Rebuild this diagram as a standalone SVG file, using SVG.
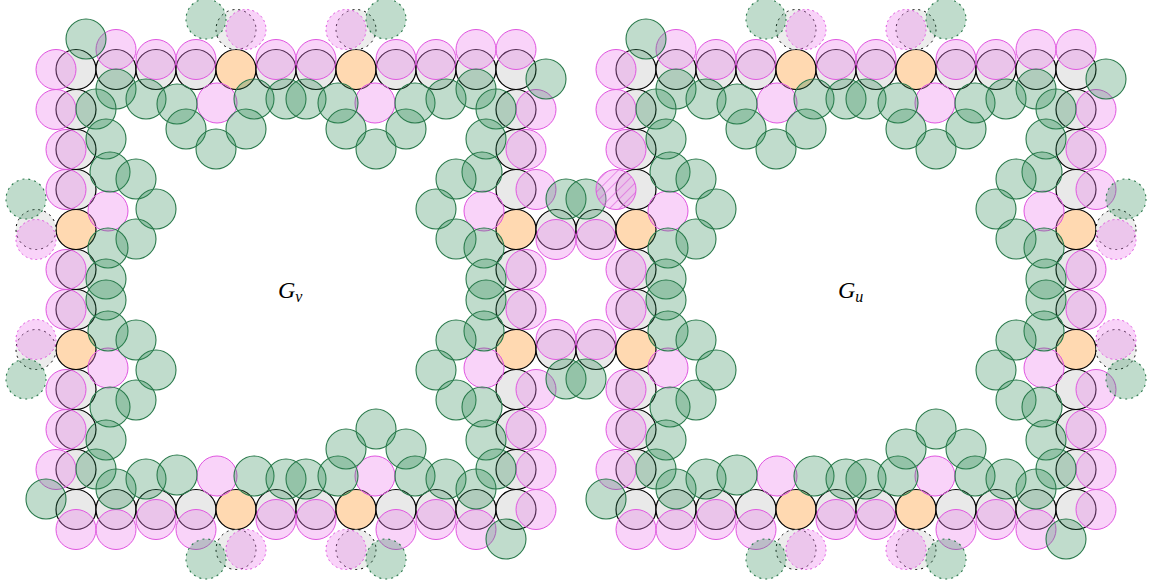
<svg xmlns="http://www.w3.org/2000/svg" width="1151" height="586" viewBox="0 0 1151 586">
<style>
circle{r:20px}
.b{fill:#e9e9e9;stroke:#000;stroke-width:1.2}
.o{fill:#ffd9b1;stroke:#000;stroke-width:1.2}
.p{fill:#ee82ee;fill-opacity:.35;stroke:#e055e0;stroke-width:1}
.g{fill:#2e8b57;fill-opacity:.3;stroke:#2a7a4c;stroke-width:1.1}
.bd{fill:#e9e9e9;fill-opacity:.85;stroke:#000;stroke-width:1;stroke-dasharray:2 4}
.pd{fill:#ee82ee;fill-opacity:.35;stroke:#e055e0;stroke-width:1;stroke-dasharray:2 3}
.gd{fill:#2e8b57;fill-opacity:.3;stroke:#2a7a4c;stroke-width:1.1;stroke-dasharray:2 4}
.h{fill:url(#hatch);stroke:none}
.lbl{font-family:"Liberation Serif","DejaVu Serif",serif;font-style:italic;font-size:24px;fill:#000}
</style>
<defs>
<pattern id="hatch" patternUnits="userSpaceOnUse" width="7" height="7" patternTransform="rotate(45)">
<line x1="0" y1="0" x2="0" y2="7" stroke="#d94fd9" stroke-width="1.1"/>
</pattern>
</defs>
<rect width="1151" height="586" fill="#fff"/>

<!-- ===== Gadget G_v ===== -->
<g id="Gv">
 <g id="Gv-black">
  <circle class="b" cx="76" cy="69.5"/><circle class="b" cx="116" cy="69.5"/><circle class="b" cx="156" cy="69.5"/><circle class="b" cx="196" cy="69.5"/><circle class="o" cx="236" cy="69.5"/><circle class="b" cx="276" cy="69.5"/><circle class="b" cx="316" cy="69.5"/><circle class="o" cx="356" cy="69.5"/><circle class="b" cx="396" cy="69.5"/><circle class="b" cx="436" cy="69.5"/><circle class="b" cx="476" cy="69.5"/><circle class="b" cx="516" cy="69.5"/>
  <circle class="b" cx="76" cy="509.5"/><circle class="b" cx="116" cy="509.5"/><circle class="b" cx="156" cy="509.5"/><circle class="b" cx="196" cy="509.5"/><circle class="o" cx="236" cy="509.5"/><circle class="b" cx="276" cy="509.5"/><circle class="b" cx="316" cy="509.5"/><circle class="o" cx="356" cy="509.5"/><circle class="b" cx="396" cy="509.5"/><circle class="b" cx="436" cy="509.5"/><circle class="b" cx="476" cy="509.5"/><circle class="b" cx="516" cy="509.5"/>
  <circle class="b" cx="76" cy="109.5"/><circle class="b" cx="76" cy="149.5"/><circle class="b" cx="76" cy="189.5"/><circle class="o" cx="76" cy="229.5"/><circle class="b" cx="76" cy="269.5"/><circle class="b" cx="76" cy="309.5"/><circle class="o" cx="76" cy="349.5"/><circle class="b" cx="76" cy="389.5"/><circle class="b" cx="76" cy="429.5"/><circle class="b" cx="76" cy="469.5"/>
  <circle class="b" cx="516" cy="109.5"/><circle class="b" cx="516" cy="149.5"/><circle class="b" cx="516" cy="189.5"/><circle class="o" cx="516" cy="229.5"/><circle class="b" cx="516" cy="269.5"/><circle class="b" cx="516" cy="309.5"/><circle class="o" cx="516" cy="349.5"/><circle class="b" cx="516" cy="389.5"/><circle class="b" cx="516" cy="429.5"/><circle class="b" cx="516" cy="469.5"/>
 </g>
 <g id="Gv-missing">
  <circle class="bd" cx="236" cy="29.5"/><circle class="bd" cx="356" cy="29.5"/><circle class="bd" cx="236" cy="549.5"/><circle class="bd" cx="356" cy="549.5"/><circle class="bd" cx="36" cy="229.5"/><circle class="bd" cx="36" cy="349.5"/>
  <circle class="pd" cx="246" cy="29.5"/><circle class="pd" cx="346" cy="29.5"/><circle class="pd" cx="246" cy="549.5"/><circle class="pd" cx="346" cy="549.5"/><circle class="pd" cx="36" cy="239.5"/><circle class="pd" cx="36" cy="339.5"/>
 </g>
 <g id="Gv-pink">
  <circle class="p" cx="56" cy="69.5"/><circle class="p" cx="116" cy="49.5"/><circle class="p" cx="156" cy="59.5"/><circle class="p" cx="196" cy="59.5"/><circle class="p" cx="276" cy="59.5"/><circle class="p" cx="316" cy="59.5"/><circle class="p" cx="396" cy="59.5"/><circle class="p" cx="436" cy="59.5"/><circle class="p" cx="476" cy="49.5"/><circle class="p" cx="516" cy="49.5"/>
  <circle class="p" cx="56" cy="109.5"/><circle class="p" cx="66" cy="149.5"/><circle class="p" cx="66" cy="189.5"/><circle class="p" cx="66" cy="269.5"/><circle class="p" cx="66" cy="309.5"/><circle class="p" cx="66" cy="389.5"/><circle class="p" cx="66" cy="429.5"/><circle class="p" cx="56" cy="469.5"/>
  <circle class="p" cx="536" cy="109.5"/><circle class="p" cx="526" cy="149.5"/><circle class="p" cx="536" cy="189.5"/><circle class="p" cx="526" cy="269.5"/><circle class="p" cx="526" cy="309.5"/><circle class="p" cx="536" cy="389.5"/><circle class="p" cx="526" cy="429.5"/><circle class="p" cx="536" cy="469.5"/><circle class="p" cx="536" cy="509.5"/>
  <circle class="p" cx="76" cy="529.5"/><circle class="p" cx="116" cy="529.5"/><circle class="p" cx="156" cy="519.5"/><circle class="p" cx="196" cy="529.5"/><circle class="p" cx="276" cy="519.5"/><circle class="p" cx="316" cy="519.5"/><circle class="p" cx="396" cy="529.5"/><circle class="p" cx="436" cy="519.5"/><circle class="p" cx="476" cy="529.5"/>
  <circle class="p" cx="108" cy="211"/><circle class="p" cx="108" cy="368"/><circle class="p" cx="484" cy="211"/><circle class="p" cx="484" cy="368"/><circle class="p" cx="217" cy="103"/><circle class="p" cx="375" cy="103"/><circle class="p" cx="217" cy="476"/><circle class="p" cx="375" cy="476"/>
 </g>
 <g id="Gv-green">
  <circle class="g" cx="86" cy="39"/><circle class="g" cx="116" cy="89"/><circle class="g" cx="96" cy="109"/><circle class="g" cx="146" cy="99"/><circle class="g" cx="177" cy="104"/><circle class="g" cx="186" cy="129"/><circle class="g" cx="216" cy="149"/><circle class="g" cx="246" cy="129"/><circle class="g" cx="254" cy="99"/><circle class="g" cx="286" cy="99"/><circle class="g" cx="306" cy="99"/><circle class="g" cx="338" cy="103"/><circle class="g" cx="346" cy="129"/><circle class="g" cx="376" cy="149"/><circle class="g" cx="406" cy="129"/><circle class="g" cx="415" cy="103"/><circle class="g" cx="446" cy="99"/><circle class="g" cx="476" cy="89"/><circle class="g" cx="496" cy="109"/><circle class="g" cx="546" cy="79"/>
  <circle class="g" cx="106" cy="139"/><circle class="g" cx="110" cy="172"/><circle class="g" cx="136" cy="179"/><circle class="g" cx="156" cy="209"/><circle class="g" cx="136" cy="239"/><circle class="g" cx="108" cy="248"/><circle class="g" cx="106" cy="279"/><circle class="g" cx="106" cy="300"/><circle class="g" cx="108" cy="331"/><circle class="g" cx="136" cy="340"/><circle class="g" cx="156" cy="370"/><circle class="g" cx="136" cy="400"/><circle class="g" cx="110" cy="407"/><circle class="g" cx="106" cy="440"/>
  <circle class="g" cx="486" cy="139"/><circle class="g" cx="482" cy="172"/><circle class="g" cx="456" cy="179"/><circle class="g" cx="436" cy="209"/><circle class="g" cx="456" cy="239"/><circle class="g" cx="484" cy="248"/><circle class="g" cx="486" cy="279"/><circle class="g" cx="486" cy="300"/><circle class="g" cx="484" cy="331"/><circle class="g" cx="456" cy="340"/><circle class="g" cx="436" cy="370"/><circle class="g" cx="456" cy="400"/><circle class="g" cx="482" cy="407"/><circle class="g" cx="486" cy="440"/>
  <circle class="g" cx="46" cy="499"/><circle class="g" cx="96" cy="469"/><circle class="g" cx="116" cy="489"/><circle class="g" cx="146" cy="479"/><circle class="g" cx="177" cy="475"/><circle class="g" cx="254" cy="476"/><circle class="g" cx="286" cy="479"/><circle class="g" cx="306" cy="479"/><circle class="g" cx="338" cy="476"/><circle class="g" cx="346" cy="449"/><circle class="g" cx="376" cy="429"/><circle class="g" cx="406" cy="449"/><circle class="g" cx="415" cy="476"/><circle class="g" cx="446" cy="479"/><circle class="g" cx="476" cy="489"/><circle class="g" cx="496" cy="469"/><circle class="g" cx="506" cy="539"/>
 </g>
 <g id="Gv-missing-green">
  <circle class="gd" cx="206" cy="19"/><circle class="gd" cx="386" cy="19"/><circle class="gd" cx="206" cy="559"/><circle class="gd" cx="386" cy="559"/><circle class="gd" cx="26" cy="199"/><circle class="gd" cx="26" cy="379"/>
 </g>
 <text id="Gv-label" class="lbl" x="278" y="298">G<tspan font-size="16" dy="4">v</tspan></text>
</g>

<!-- ===== Connection between G_v and G_u ===== -->
<g id="link">
 <circle class="b" cx="556" cy="229.5"/><circle class="b" cx="596" cy="229.5"/><circle class="b" cx="556" cy="349.5"/><circle class="b" cx="596" cy="349.5"/>
 <circle class="p" cx="556" cy="239.5"/><circle class="p" cx="596" cy="239.5"/><circle class="p" cx="556" cy="339.5"/><circle class="p" cx="596" cy="339.5"/>
 <circle class="g" cx="566" cy="199"/><circle class="g" cx="586" cy="199"/><circle class="g" cx="566" cy="379"/><circle class="g" cx="586" cy="379"/>
</g>

<!-- ===== Gadget G_u (same layout shifted by 560) ===== -->
<g id="Gu" transform="translate(560 0)">
 <g id="Gu-black">
  <circle class="b" cx="76" cy="69.5"/><circle class="b" cx="116" cy="69.5"/><circle class="b" cx="156" cy="69.5"/><circle class="b" cx="196" cy="69.5"/><circle class="o" cx="236" cy="69.5"/><circle class="b" cx="276" cy="69.5"/><circle class="b" cx="316" cy="69.5"/><circle class="o" cx="356" cy="69.5"/><circle class="b" cx="396" cy="69.5"/><circle class="b" cx="436" cy="69.5"/><circle class="b" cx="476" cy="69.5"/><circle class="b" cx="516" cy="69.5"/>
  <circle class="b" cx="76" cy="509.5"/><circle class="b" cx="116" cy="509.5"/><circle class="b" cx="156" cy="509.5"/><circle class="b" cx="196" cy="509.5"/><circle class="o" cx="236" cy="509.5"/><circle class="b" cx="276" cy="509.5"/><circle class="b" cx="316" cy="509.5"/><circle class="o" cx="356" cy="509.5"/><circle class="b" cx="396" cy="509.5"/><circle class="b" cx="436" cy="509.5"/><circle class="b" cx="476" cy="509.5"/><circle class="b" cx="516" cy="509.5"/>
  <circle class="b" cx="76" cy="109.5"/><circle class="b" cx="76" cy="149.5"/><circle class="b" cx="76" cy="189.5"/><circle class="o" cx="76" cy="229.5"/><circle class="b" cx="76" cy="269.5"/><circle class="b" cx="76" cy="309.5"/><circle class="o" cx="76" cy="349.5"/><circle class="b" cx="76" cy="389.5"/><circle class="b" cx="76" cy="429.5"/><circle class="b" cx="76" cy="469.5"/>
  <circle class="b" cx="516" cy="109.5"/><circle class="b" cx="516" cy="149.5"/><circle class="b" cx="516" cy="189.5"/><circle class="o" cx="516" cy="229.5"/><circle class="b" cx="516" cy="269.5"/><circle class="b" cx="516" cy="309.5"/><circle class="o" cx="516" cy="349.5"/><circle class="b" cx="516" cy="389.5"/><circle class="b" cx="516" cy="429.5"/><circle class="b" cx="516" cy="469.5"/>
 </g>
 <g id="Gu-missing">
  <circle class="bd" cx="236" cy="29.5"/><circle class="bd" cx="356" cy="29.5"/><circle class="bd" cx="236" cy="549.5"/><circle class="bd" cx="356" cy="549.5"/><circle class="bd" cx="556" cy="229.5"/><circle class="bd" cx="556" cy="349.5"/>
  <circle class="pd" cx="246" cy="29.5"/><circle class="pd" cx="346" cy="29.5"/><circle class="pd" cx="246" cy="549.5"/><circle class="pd" cx="346" cy="549.5"/><circle class="pd" cx="556" cy="239.5"/><circle class="pd" cx="556" cy="339.5"/>
 </g>
 <g id="Gu-pink">
  <circle class="p" cx="56" cy="69.5"/><circle class="p" cx="116" cy="49.5"/><circle class="p" cx="156" cy="59.5"/><circle class="p" cx="196" cy="59.5"/><circle class="p" cx="276" cy="59.5"/><circle class="p" cx="316" cy="59.5"/><circle class="p" cx="396" cy="59.5"/><circle class="p" cx="436" cy="59.5"/><circle class="p" cx="476" cy="49.5"/><circle class="p" cx="516" cy="49.5"/>
  <circle class="p" cx="56" cy="109.5"/><circle class="p" cx="66" cy="149.5"/><circle class="p" cx="66" cy="269.5"/><circle class="p" cx="66" cy="309.5"/><circle class="p" cx="66" cy="389.5"/><circle class="p" cx="66" cy="429.5"/><circle class="p" cx="56" cy="469.5"/>
  <circle class="p" cx="536" cy="109.5"/><circle class="p" cx="526" cy="149.5"/><circle class="p" cx="536" cy="189.5"/><circle class="p" cx="526" cy="269.5"/><circle class="p" cx="526" cy="309.5"/><circle class="p" cx="536" cy="389.5"/><circle class="p" cx="526" cy="429.5"/><circle class="p" cx="536" cy="469.5"/><circle class="p" cx="536" cy="509.5"/>
  <circle class="p" cx="76" cy="529.5"/><circle class="p" cx="116" cy="529.5"/><circle class="p" cx="156" cy="519.5"/><circle class="p" cx="196" cy="529.5"/><circle class="p" cx="276" cy="519.5"/><circle class="p" cx="316" cy="519.5"/><circle class="p" cx="396" cy="529.5"/><circle class="p" cx="436" cy="519.5"/><circle class="p" cx="476" cy="529.5"/>
  <circle class="p" cx="108" cy="211"/><circle class="p" cx="108" cy="368"/><circle class="p" cx="484" cy="211"/><circle class="p" cx="484" cy="368"/><circle class="p" cx="217" cy="103"/><circle class="p" cx="375" cy="103"/><circle class="p" cx="217" cy="476"/><circle class="p" cx="375" cy="476"/>
 </g>
 <g id="Gu-hatched">
  <circle class="p" cx="56" cy="189.5"/><circle class="h" cx="56" cy="189.5"/>
 </g>
 <g id="Gu-green">
  <circle class="g" cx="86" cy="39"/><circle class="g" cx="116" cy="89"/><circle class="g" cx="96" cy="109"/><circle class="g" cx="146" cy="99"/><circle class="g" cx="177" cy="104"/><circle class="g" cx="186" cy="129"/><circle class="g" cx="216" cy="149"/><circle class="g" cx="246" cy="129"/><circle class="g" cx="254" cy="99"/><circle class="g" cx="286" cy="99"/><circle class="g" cx="306" cy="99"/><circle class="g" cx="338" cy="103"/><circle class="g" cx="346" cy="129"/><circle class="g" cx="376" cy="149"/><circle class="g" cx="406" cy="129"/><circle class="g" cx="415" cy="103"/><circle class="g" cx="446" cy="99"/><circle class="g" cx="476" cy="89"/><circle class="g" cx="496" cy="109"/><circle class="g" cx="546" cy="79"/>
  <circle class="g" cx="106" cy="139"/><circle class="g" cx="110" cy="172"/><circle class="g" cx="136" cy="179"/><circle class="g" cx="156" cy="209"/><circle class="g" cx="136" cy="239"/><circle class="g" cx="108" cy="248"/><circle class="g" cx="106" cy="279"/><circle class="g" cx="106" cy="300"/><circle class="g" cx="108" cy="331"/><circle class="g" cx="136" cy="340"/><circle class="g" cx="156" cy="370"/><circle class="g" cx="136" cy="400"/><circle class="g" cx="110" cy="407"/><circle class="g" cx="106" cy="440"/>
  <circle class="g" cx="486" cy="139"/><circle class="g" cx="482" cy="172"/><circle class="g" cx="456" cy="179"/><circle class="g" cx="436" cy="209"/><circle class="g" cx="456" cy="239"/><circle class="g" cx="484" cy="248"/><circle class="g" cx="486" cy="279"/><circle class="g" cx="486" cy="300"/><circle class="g" cx="484" cy="331"/><circle class="g" cx="456" cy="340"/><circle class="g" cx="436" cy="370"/><circle class="g" cx="456" cy="400"/><circle class="g" cx="482" cy="407"/><circle class="g" cx="486" cy="440"/>
  <circle class="g" cx="46" cy="499"/><circle class="g" cx="96" cy="469"/><circle class="g" cx="116" cy="489"/><circle class="g" cx="146" cy="479"/><circle class="g" cx="177" cy="475"/><circle class="g" cx="254" cy="476"/><circle class="g" cx="286" cy="479"/><circle class="g" cx="306" cy="479"/><circle class="g" cx="338" cy="476"/><circle class="g" cx="346" cy="449"/><circle class="g" cx="376" cy="429"/><circle class="g" cx="406" cy="449"/><circle class="g" cx="415" cy="476"/><circle class="g" cx="446" cy="479"/><circle class="g" cx="476" cy="489"/><circle class="g" cx="496" cy="469"/><circle class="g" cx="506" cy="539"/>
 </g>
 <g id="Gu-missing-green">
  <circle class="gd" cx="206" cy="19"/><circle class="gd" cx="386" cy="19"/><circle class="gd" cx="206" cy="559"/><circle class="gd" cx="386" cy="559"/><circle class="gd" cx="566" cy="199"/><circle class="gd" cx="566" cy="379"/>
 </g>
 <text id="Gu-label" class="lbl" x="278" y="298">G<tspan font-size="16" dy="4">u</tspan></text>
</g>
</svg>
